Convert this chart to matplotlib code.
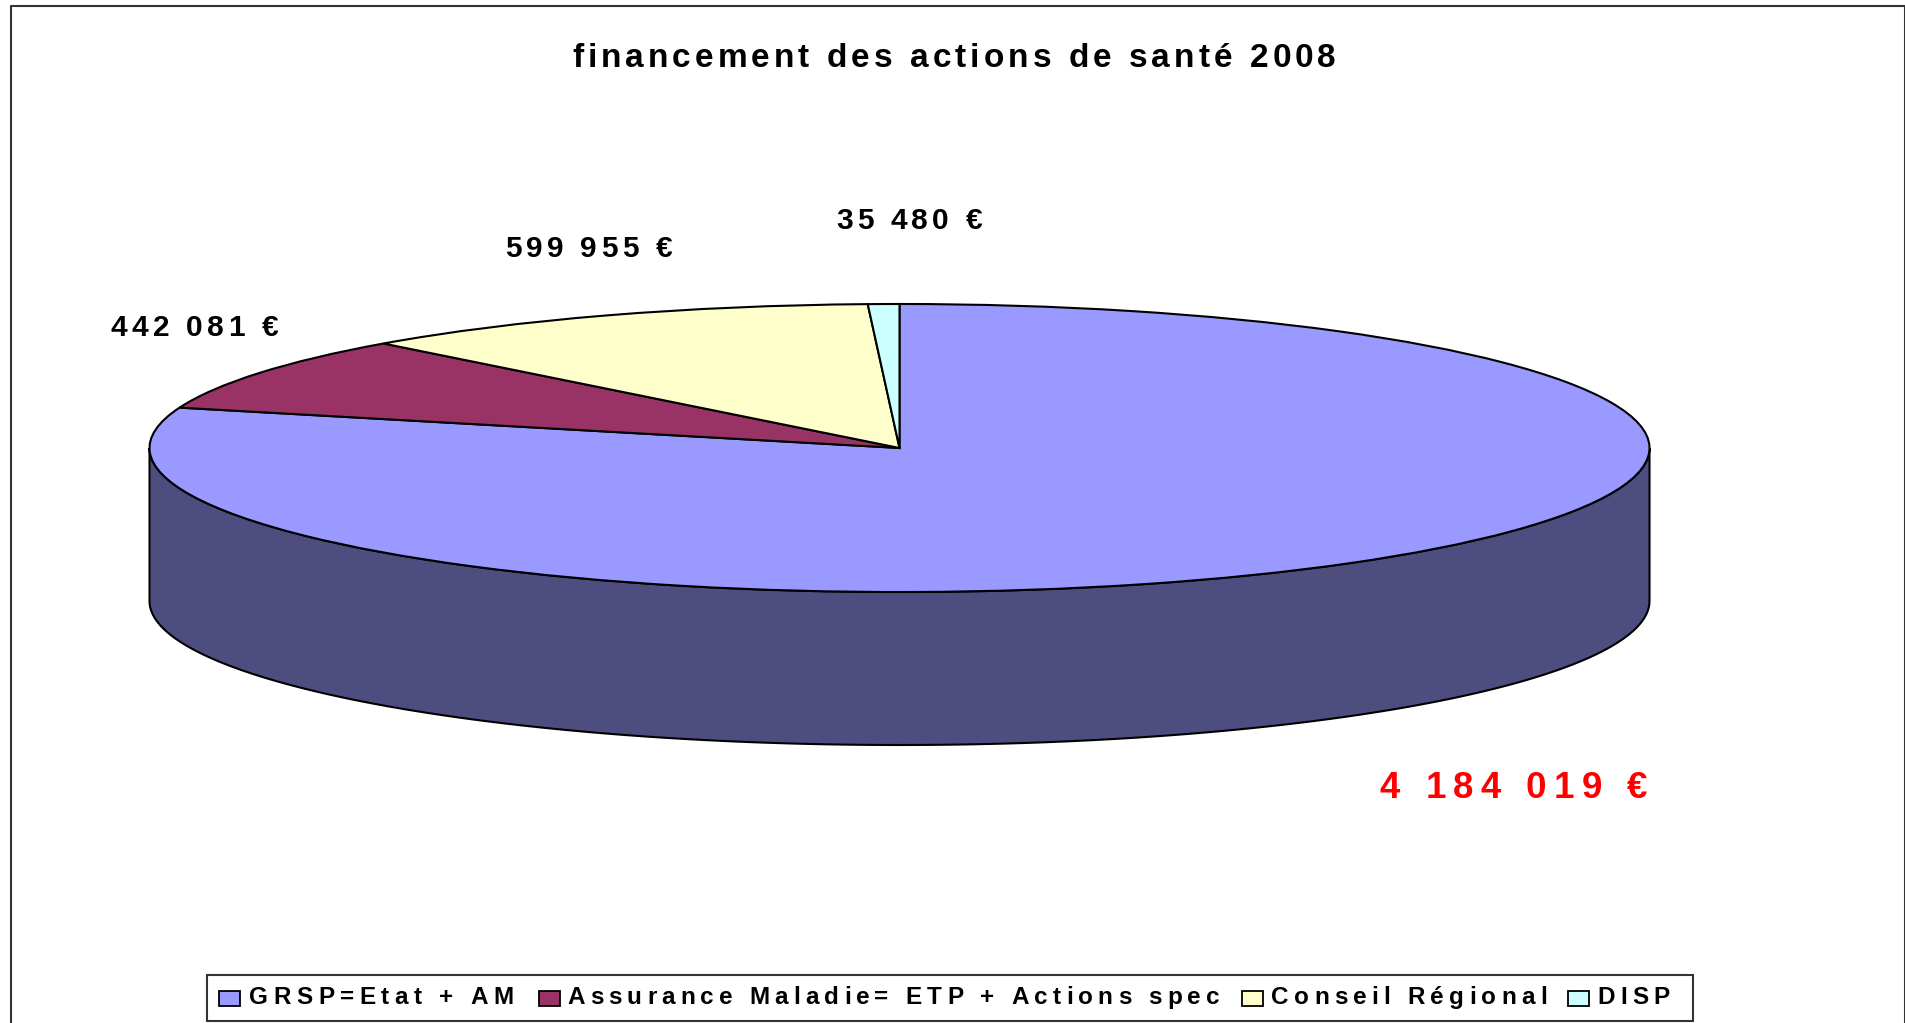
#!/usr/bin/env python3

import numpy as np
import matplotlib.pyplot as plt
from matplotlib.font_manager import findfont, get_font
from matplotlib.ft2font import LoadFlags
from matplotlib.patches import Polygon, Rectangle
from matplotlib.text import Text
from matplotlib.transforms import IdentityTransform

plt.rcParams['font.family'] = ['Liberation Sans', 'DejaVu Sans']

# data
categories = ["GRSP=Etat + AM", "Assurance Maladie= ETP + Actions spec", "Conseil Régional", "DISP"]
values = [4184019, 442081, 599955, 35480]
value_labels = ["4 184 019 €", "442 081 €", "599 955 €", "35 480 €"]
colors = ["#9999FF", "#993366", "#FFFFCC", "#CCFFFF"]
side_color = "#4D4D80"
title = "financement des actions de santé 2008"

W, H = 1906, 1023
cx, cy = 899.5, 448      # pie centre, pixels
rx, ry = 750, 144        # squashed radii, pixels
depth = 153 / ry         # height of the disc, in radius units


class SpacedText(Text):
    """One text whose letters are spread out to fill a given width in pixels."""

    def __init__(self, x, y, text, fill_width, **kwargs):
        super().__init__(x, y, text, **kwargs)
        self.fill_width = fill_width

    def draw(self, renderer):
        s = self.get_text()
        prop = self.get_fontproperties()
        font = get_font(findfont(prop))
        font.set_size(prop.get_size_in_points(), self.get_figure().dpi)
        adv = [font.load_char(ord(c), flags=LoadFlags.NO_HINTING).linearHoriAdvance / 65536 for c in s]
        gap = (self.fill_width - sum(adv)) / (len(s) - 1)

        px, py = self.get_transform().transform(self.get_unitless_position())
        for c, a in zip(s, adv):
            t = Text(px, py, c, fontproperties=prop, color=self.get_color(),
                     transform=IdentityTransform(), ha="left", va="baseline")
            t.set_figure(self.get_figure())
            t.draw(renderer)
            px += a + gap


fig = plt.figure(figsize=(W / 100, H / 100), dpi=100)
ax = fig.add_axes([0, 0, 1, 1])

# -------------------------------------------------
# top of the disc
# -------------------------------------------------
wedges, _ = ax.pie(values, colors=colors, startangle=90, counterclock=False,
                   wedgeprops=dict(edgecolor="black", linewidth=1.5, zorder=3))

ax.set_aspect("auto")
ax.set_xlim(-cx / rx, (W - cx) / rx)
ax.set_ylim(-(H - cy) / ry, cy / ry)
ax.axis("off")

# -------------------------------------------------
# side of the disc, only the front half shows
# -------------------------------------------------
t = np.linspace(np.pi, 2 * np.pi, 200)
side_x = np.concatenate([np.cos(t), np.cos(t[::-1])])
side_y = np.concatenate([np.sin(t) - depth, np.sin(t[::-1])])
ax.add_patch(Polygon(np.column_stack([side_x, side_y]), closed=True, facecolor=side_color,
                     edgecolor="black", linewidth=1.5, zorder=2))

# -------------------------------------------------
# frame, title, value labels
# -------------------------------------------------
fig.add_artist(plt.Line2D([11 / W, 11 / W, 1905 / W, 1905 / W], [0, 1 - 6 / H, 1 - 6 / H, 0],
                          color="#333333", linewidth=1.5))


def put_text(x0, x1, baseline, s, size, color="black"):
    fig.add_artist(SpacedText(x0 / W, 1 - baseline / H, s, x1 - x0, fontsize=size, color=color,
                              fontweight="bold", ha="left", va="baseline"))


put_text(572, 1336, 67, title, 24)
put_text(1380, 1647, 798, value_labels[0], 26.5, color="#FF0000")
put_text(111, 278, 336, value_labels[1], 21.5)
put_text(505, 672, 257, value_labels[2], 21.5)
put_text(836, 982, 229, value_labels[3], 21.5)

# -------------------------------------------------
# legend, box then swatch and text for each category
# -------------------------------------------------
fig.add_artist(Rectangle((207 / W, 1 - 1021 / H), (1693 - 207) / W, 46 / H, transform=fig.transFigure,
                         facecolor="white", edgecolor="#333333", linewidth=1.5))

swatch_x = [219, 539, 1242, 1568]
text_x0 = [249, 567, 1271, 1597]
text_x1 = [514, 1219, 1547, 1670]

for i in range(len(categories)):
    fig.add_artist(Rectangle((swatch_x[i] / W, 1 - 1006 / H), 21 / W, 15 / H, transform=fig.transFigure,
                             facecolor=colors[i], edgecolor="black", linewidth=1.3))
    put_text(text_x0[i], text_x1[i], 1004, categories[i], 17.5)

fig.savefig("out.png", dpi=100)
